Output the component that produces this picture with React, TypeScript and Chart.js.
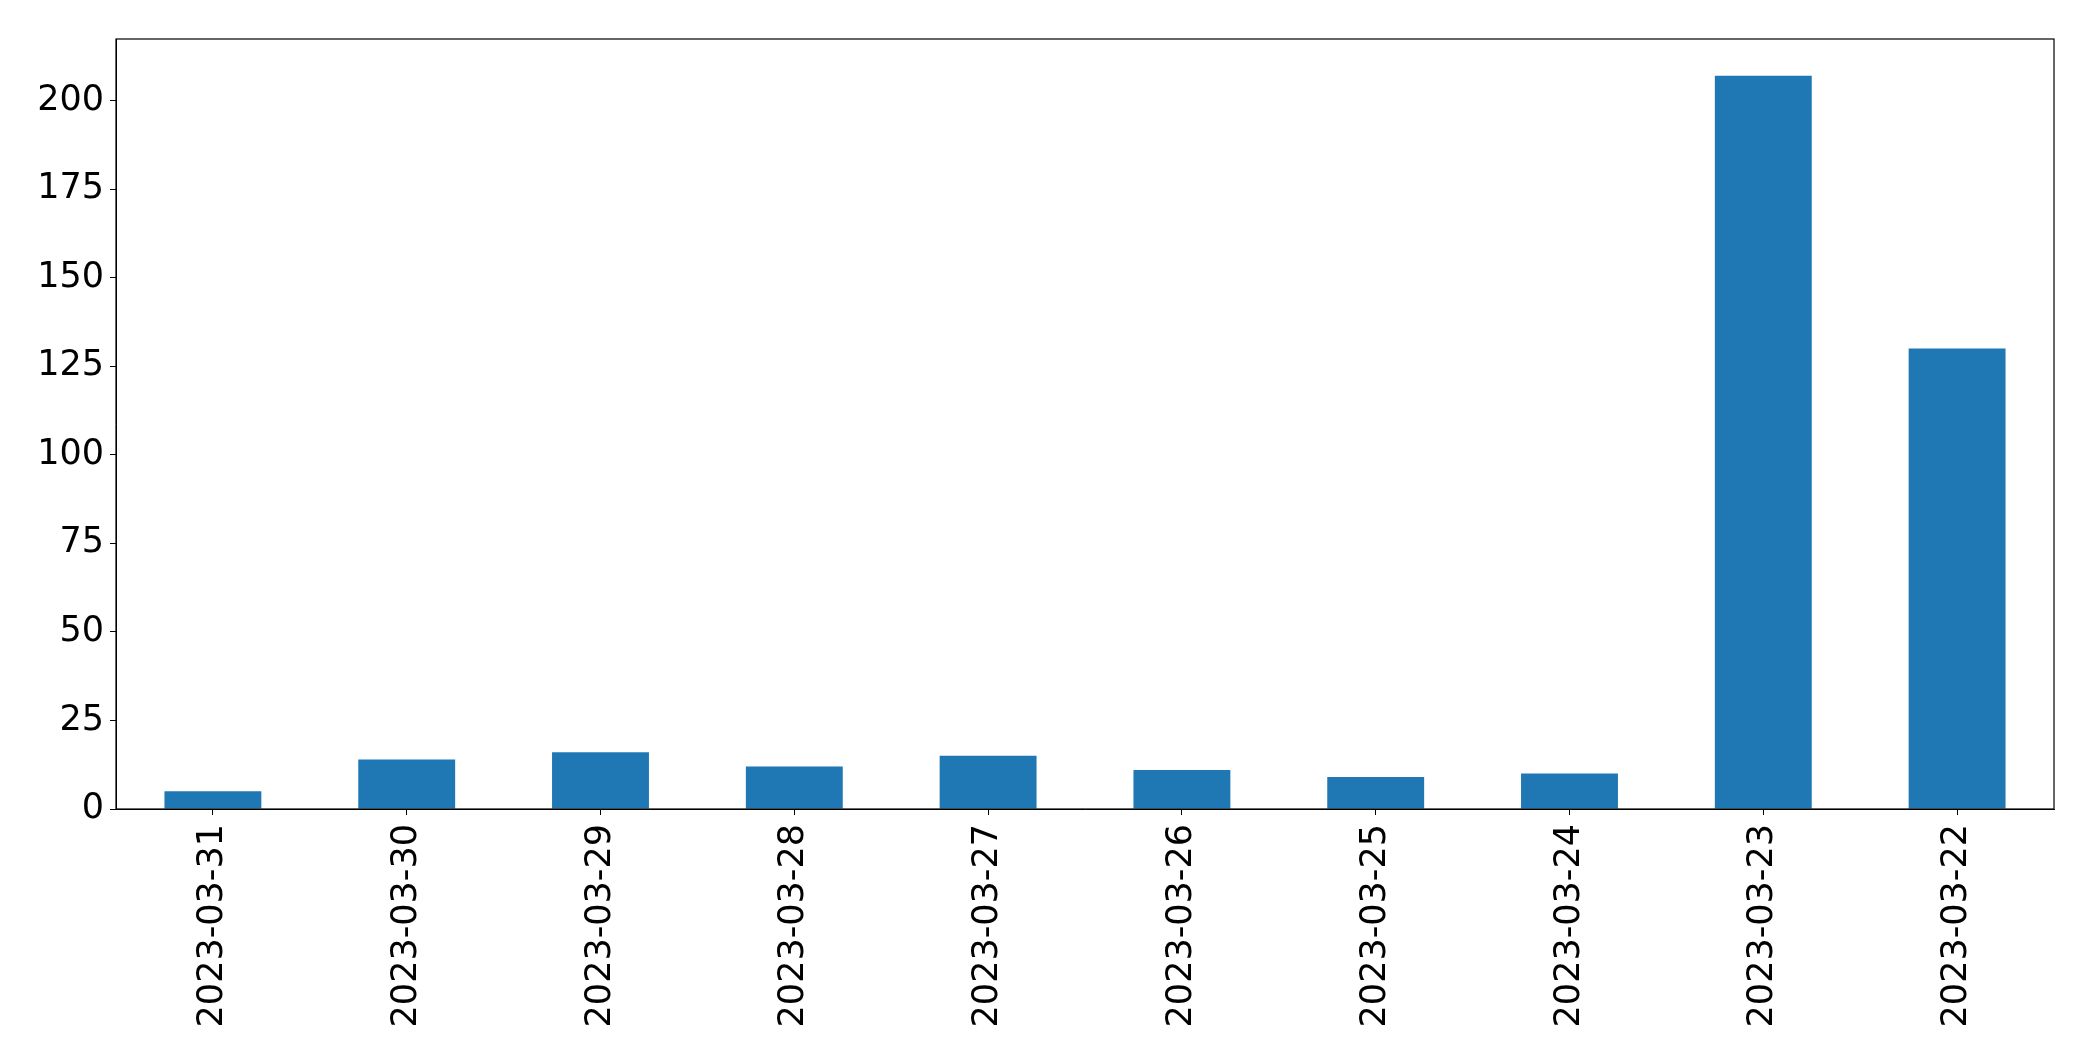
import React, { useEffect, useRef } from "react";
import { Chart, registerables } from "chart.js";

Chart.register(...registerables);

const categories = [
  "2023-03-31",
  "2023-03-30",
  "2023-03-29",
  "2023-03-28",
  "2023-03-27",
  "2023-03-26",
  "2023-03-25",
  "2023-03-24",
  "2023-03-23",
  "2023-03-22",
];
const values = [5, 14, 16, 12, 15, 11, 9, 10, 207, 130];
const yTicks = [0, 25, 50, 75, 100, 125, 150, 175, 200];

const FONT = "'DejaVu Sans', sans-serif";

const frame = {
  id: "frame",
  afterDraw(chart: any) {
    const { ctx, chartArea } = chart;
    ctx.save();
    ctx.strokeStyle = "#000";
    ctx.lineWidth = 1.2;
    ctx.strokeRect(chartArea.left, chartArea.top, chartArea.right - chartArea.left, chartArea.bottom - chartArea.top);
    ctx.restore();
  },
};

export default function App() {
  const ref = useRef<HTMLCanvasElement | null>(null);
  useEffect(() => {
    if (!ref.current) return;
    const yMax = Math.max(...values) * 1.05;
    const chart = new Chart(ref.current, {
      type: "bar",
      data: {
        labels: categories,
        datasets: [
          {
            data: values,
            backgroundColor: "#1f77b4",
            borderWidth: 0,
            barPercentage: 0.5,
            categoryPercentage: 1,
          },
        ],
      },
      options: {
        animation: false,
        responsive: true,
        maintainAspectRatio: false,
        layout: { padding: { left: 0, right: 39, top: 39, bottom: 0 } },
        plugins: { legend: { display: false }, tooltip: { enabled: false } },
        scales: {
          x: {
            offset: true,
            grid: { offset: false, drawOnChartArea: false, tickLength: 6, color: "#000", tickWidth: 1 },
            border: { color: "#000", width: 1 },
            ticks: {
              color: "#000",
              font: { family: FONT, size: 35 },
              minRotation: 90,
              maxRotation: 90,
              padding: 9,
              autoSkip: false,
            },
            afterFit(scale: any) {
              scale.height = 252;
            },
          },
          y: {
            min: 0,
            max: yMax,
            grid: { drawOnChartArea: false, tickLength: 6, color: "#000", tickWidth: 1 },
            border: { color: "#000", width: 1 },
            afterBuildTicks(scale: any) {
              scale.ticks = yTicks.map((v) => ({ value: v }));
            },
            ticks: {
              color: "#000",
              font: { family: FONT, size: 35 },
              padding: 6,
              includeBounds: false,
            },
            afterFit(scale: any) {
              scale.width = 116;
            },
          },
        },
      },
      plugins: [frame],
    });
    return () => chart.destroy();
  }, []);
  return (
    <div style={{ position: "fixed", left: 0, top: 0, width: 2093, height: 1061, background: "#fff" }}>
      <canvas ref={ref} />
    </div>
  );
}
